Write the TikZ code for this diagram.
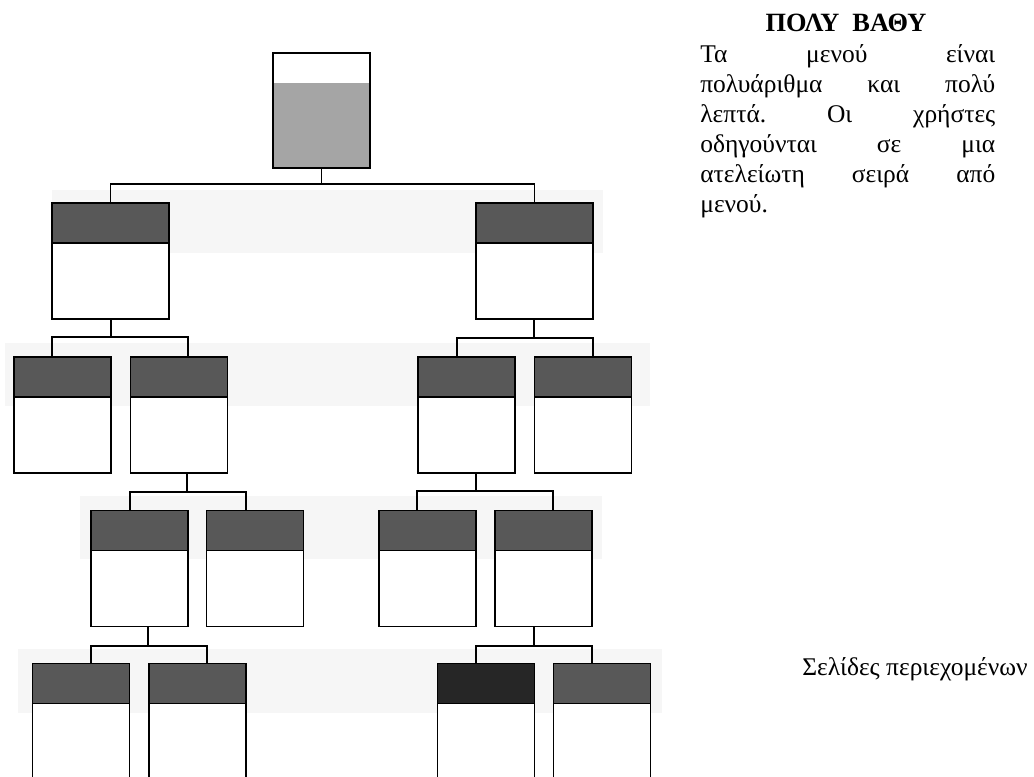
\documentclass[tikz,border=0pt]{standalone}
\usepackage{fontspec}
\setmainfont{Liberation Serif}
\usetikzlibrary{positioning}
\definecolor{hgray}{RGB}{88,88,88}
\definecolor{hblack}{RGB}{38,38,38}
\definecolor{rgray}{RGB}{165,165,165}
\definecolor{bandgray}{RGB}{246,246,246}
\frenchspacing

\begin{document}
\begin{tikzpicture}[x=0.02cm,y=-0.02cm,
    hd/.style={rectangle,draw,line width=1pt,fill=hgray,minimum width=1.94cm,
               minimum height=0.8cm,inner sep=0pt,outer sep=0pt},
    bd/.style={rectangle,draw,line width=1pt,fill=white,minimum width=1.94cm,
               minimum height=1.52cm,inner sep=0pt,outer sep=0pt},
    ln/.style={line width=0.8pt},
    band/.style={fill=bandgray}]
  \useasboundingbox (0,0) rectangle (1034,777);
  % faint bands behind the header rows
  \fill[band] (52,190) rectangle (603,253);
  \fill[band] (5,343) rectangle (650,406);
  \fill[band] (80,496) rectangle (602,559);
  \fill[band] (18,649) rectangle (662,713);
  % root menu
  \node[bd,fill=rgray,minimum height=2.3cm,
        path picture={\fill[white] (path picture bounding box.north west)
          rectangle ([yshift=-0.6cm]path picture bounding box.north east);}]
        (root) at (321.5,110.5) {};
  % level 1
  \node[hd,minimum width=2.34cm] (h11) at (110.5,223) {};
  \node[bd,minimum width=2.34cm,below=0pt of h11] (p11) {};
  \node[hd,minimum width=2.34cm] (h12) at (534.5,223) {};
  \node[bd,minimum width=2.34cm,below=0pt of h12] (p12) {};
  % level 2
  \node[hd] (h21) at (62.5,377) {};  \node[bd,below=0pt of h21] (p21) {};
  \node[hd] (h22) at (179,377) {};   \node[bd,below=0pt of h22] (p22) {};
  \node[hd] (h23) at (466.5,377) {}; \node[bd,below=0pt of h23] (p23) {};
  \node[hd] (h24) at (583,377) {};   \node[bd,below=0pt of h24] (p24) {};
  % level 3
  \node[hd] (h31) at (139.5,530.5) {}; \node[bd,below=0pt of h31] (p31) {};
  \node[hd] (h32) at (255,530.5) {};   \node[bd,below=0pt of h32] (p32) {};
  \node[hd] (h33) at (427.5,530.5) {}; \node[bd,below=0pt of h33] (p33) {};
  \node[hd] (h34) at (543.5,530.5) {}; \node[bd,below=0pt of h34] (p34) {};
  % level 4 (content pages)
  \node[hd] (h41) at (81,683.5) {};    \node[bd,minimum height=2cm,below=0pt of h41] (p41) {};
  \node[hd] (h42) at (197.5,683.5) {}; \node[bd,minimum height=2cm,below=0pt of h42] (p42) {};
  \node[hd,fill=hblack] (h43) at (486,683.5) {};
  \node[bd,minimum height=2cm,below=0pt of h43] (p43) {};
  \node[hd] (h44) at (602,683.5) {};   \node[bd,minimum height=2cm,below=0pt of h44] (p44) {};
  % connectors
  \coordinate (jt) at (321.5,184);
  \draw[ln] (root.south) -- (jt);
  \draw[ln] (h11.north) |- (h12.north |- jt) -- (h12.north);
  \foreach \pa/\ca/\cb/\sx/\bary/\xa/\xb in {
      p11/h21/h22/111/337/52/188, p12/h23/h24/534/338/457/593,
      p22/h31/h32/187/492/130/246, p23/h33/h34/476/491/417/553,
      p31/h41/h42/148/646/91/207, p34/h43/h44/534/646/476/592}{
    \coordinate (js) at (\sx,\bary);
    \coordinate (ja) at (\xa,\bary);
    \coordinate (jb) at (\xb,\bary);
    \draw[ln] (js |- \pa.south) -- (js);
    \draw[ln] (ja |- \ca.north) -- (ja) -- (jb) -- (jb |- \cb.north);
  }
  % texts
  \node[font=\fontsize{15}{18}\selectfont\bfseries,anchor=base,inner sep=0pt]
    (title) at (846,32) {ΠΟΛΥ\ \ ΒΑΘΥ};
  \node[text width=5.9cm,align=justify,inner sep=0pt,anchor=base west,
        font=\fontsize{14.5}{17}\selectfont] (txt) at (700,63)
    {Τα μενού είναι\linebreak πολυάριθμα και πολύ\linebreak
     λεπτά. Οι χρήστες\linebreak οδηγούνται σε μια\linebreak
     ατελείωτη σειρά από\linebreak μενού.};
  \node[font=\fontsize{14.5}{17}\selectfont,anchor=base east,inner sep=0pt]
    (lbl) at (1028,675) {Σελίδες περιεχομένων};
\end{tikzpicture}
\end{document}
